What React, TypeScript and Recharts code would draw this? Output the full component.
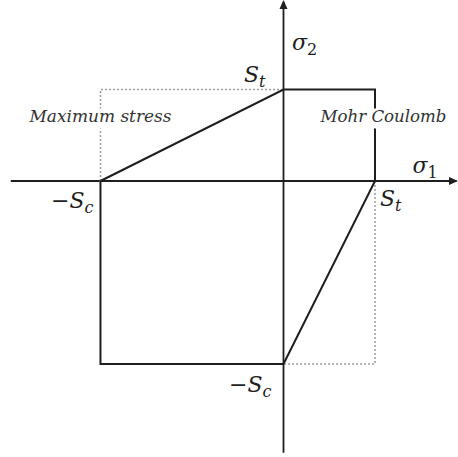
import React from "react";
import { ComposedChart, XAxis, YAxis, Line, ReferenceDot } from "recharts";

// principal stress plane, failure envelopes in units of St
const ST = 1;
const SC = 2;

const mohrCoulomb = [
  { x: -SC, y: 0 },
  { x: 0, y: ST },
  { x: ST, y: ST },
  { x: ST, y: 0 },
  { x: 0, y: -SC },
  { x: -SC, y: -SC },
  { x: -SC, y: 0 },
];
const maxStressUpper = [
  { x: -SC, y: 0 },
  { x: -SC, y: ST },
  { x: 0, y: ST },
];
const maxStressLower = [
  { x: ST, y: 0 },
  { x: ST, y: -SC },
  { x: 0, y: -SC },
];
const sigma1Axis = [
  { x: -2.98, y: 0 },
  { x: 1.89, y: 0 },
];
const sigma2Axis = [
  { x: 0, y: -2.97 },
  { x: 0, y: 1.96 },
];

const X_DOMAIN = [-3.098, 1.907];
const Y_DOMAIN = [-3.016, 1.978];

const INK = "#1e1e1e";
const DOT = "#9a9a9a";
const MATH = "'DejaVu Serif', 'Liberation Serif', serif";

const arrowRight = (p: any) => (
  <polygon
    points={`${p.cx},${p.cy} ${p.cx - 9},${p.cy - 4} ${p.cx - 9},${p.cy + 4}`}
    fill={INK}
  />
);
const arrowUp = (p: any) => (
  <polygon
    points={`${p.cx},${p.cy} ${p.cx - 4},${p.cy + 9} ${p.cx + 4},${p.cy + 9}`}
    fill={INK}
  />
);

function mathLabel(
  main: string,
  sub: string,
  dx: number,
  dy: number,
  anchor: "start" | "end",
  minus = false
) {
  return (p: any) => (
    <text
      x={p.cx + dx}
      y={p.cy + dy}
      textAnchor={anchor}
      fontFamily={MATH}
      fontSize={22}
      fill={INK}
    >
      {minus && <tspan>{"\u2212"}</tspan>}
      <tspan fontStyle="italic">{main}</tspan>
      <tspan fontSize={16} dy={5} fontStyle={/\d/.test(sub) ? "normal" : "italic"}>
        {sub}
      </tspan>
    </text>
  );
}

function boxLabel(text: string, dx: number, dy: number, width: number) {
  return (p: any) => (
    <g>
      <rect x={p.cx + dx - 2} y={p.cy + dy - 14} width={width + 4} height={20} fill="#fff" />
      <text
        x={p.cx + dx}
        y={p.cy + dy}
        fontFamily={MATH}
        fontStyle="italic"
        fontSize={16}
        fill="#333"
        textLength={width}
        lengthAdjust="spacingAndGlyphs"
      >
        {text}
      </text>
    </g>
  );
}

export default function App() {
  return (
    <div style={{ position: "absolute", left: 0, top: 0, background: "#fff" }}>
      <ComposedChart width={458} height={457} margin={{ top: 0, right: 0, bottom: 0, left: 0 }}>
        <XAxis type="number" dataKey="x" domain={X_DOMAIN} allowDataOverflow hide />
        <YAxis type="number" dataKey="y" domain={Y_DOMAIN} allowDataOverflow hide />
        <Line data={sigma1Axis} dataKey="y" stroke={INK} strokeWidth={1.8} dot={false} activeDot={false} isAnimationActive={false} />
        <Line data={sigma2Axis} dataKey="y" stroke={INK} strokeWidth={1.8} dot={false} activeDot={false} isAnimationActive={false} />
        <Line data={maxStressUpper} dataKey="y" stroke={DOT} strokeWidth={1.5} strokeDasharray="2 2" dot={false} activeDot={false} isAnimationActive={false} />
        <Line data={maxStressLower} dataKey="y" stroke={DOT} strokeWidth={1.5} strokeDasharray="2 2" dot={false} activeDot={false} isAnimationActive={false} />
        <Line data={mohrCoulomb} dataKey="y" stroke={INK} strokeWidth={2} dot={false} activeDot={false} isAnimationActive={false} />
        <ReferenceDot x={1.907} y={0} r={0} shape={arrowRight} />
        <ReferenceDot x={0} y={1.978} r={0} shape={arrowUp} />
        <ReferenceDot x={0} y={ST} r={0} shape={mathLabel("\u03C3", "2", 8.5, -39.5, "start")} />
        <ReferenceDot x={ST} y={0} r={0} shape={mathLabel("\u03C3", "1", 37.5, -8, "start")} />
        <ReferenceDot x={0} y={ST} r={0} shape={mathLabel("S", "t", -18, -7.5, "end")} />
        <ReferenceDot x={ST} y={0} r={0} shape={mathLabel("S", "t", 5, 25, "start")} />
        <ReferenceDot x={-SC} y={0} r={0} shape={mathLabel("S", "c", -7, 27, "end", true)} />
        <ReferenceDot x={0} y={-SC} r={0} shape={mathLabel("S", "c", -12, 28, "end", true)} />
        <ReferenceDot x={-SC} y={ST} r={0} shape={boxLabel("Maximum stress", -71, 33, 142)} />
        <ReferenceDot x={ST} y={ST} r={0} shape={boxLabel("Mohr Coulomb", -54.5, 33, 126)} />
      </ComposedChart>
    </div>
  );
}
